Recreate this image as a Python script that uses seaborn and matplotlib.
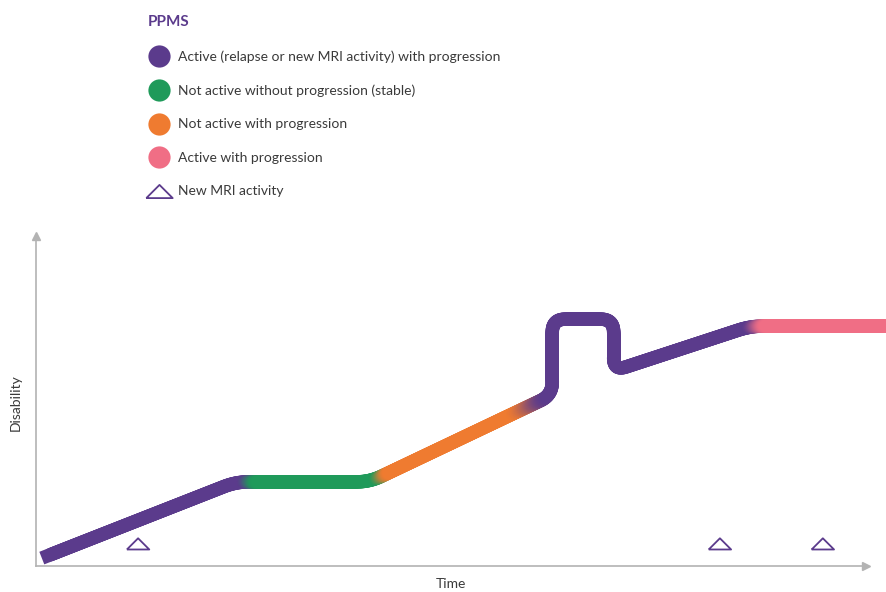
import numpy as np
import matplotlib
matplotlib.use("Agg")
import matplotlib.pyplot as plt
import seaborn as sns
from matplotlib.collections import LineCollection
from matplotlib.lines import Line2D
from matplotlib.colors import to_rgb

# Course of disability over time (corner points of the disease course)
time = [0.7, 24.1, 40.2, 62.2, 62.2, 69.6, 69.6, 86.1, 104.0]
disability = [2.4, 25.5, 25.5, 51.8, 74.8, 74.8, 59.1, 72.7, 72.7]

# Disease states shown in the legend
state_names = [
    "Active (relapse or new MRI activity) with progression",
    "Not active without progression (stable)",
    "Not active with progression",
    "Active with progression",
]
state_colors = ["#5b3b8c", "#1f9a5a", "#ef7b30", "#f06e85"]

# Sequence of states along the course and the times where one hands over to the next
course_states = [0, 1, 2, 0, 3]
state_changes = [25.8, 41.7, 59.5, 86.9]
change_spans = [1.8, 1.8, 4.5, 2.3]

# New MRI activity events
mri_time = [12.3, 82.4, 94.8]
mri_level = [6.7, 6.7, 6.7]

PURPLE = state_colors[0]
AXIS_GREY = "#b3b3b3"
TEXT = "#3a3a3a"

sns.set_theme(style="white")
plt.rcParams["font.family"] = ["Lato", "DejaVu Sans"]

W, H = 887, 592
fig = plt.figure(figsize=(W / 100, H / 100), dpi=100)
ax = fig.add_axes([36 / W, 26 / H, 830 / W, 330 / H])
ax.set_xlim(0, 100)
ax.set_ylim(0, 100)

# axes drawn as two grey arrows
sns.despine(ax=ax)
for side in ("left", "bottom"):
    ax.spines[side].set_color(AXIS_GREY)
    ax.spines[side].set_linewidth(1.2)
ax.set_xticks([])
ax.set_yticks([])
ax.plot(1, 0, ">", color=AXIS_GREY, markersize=6, transform=ax.transAxes, clip_on=False)
ax.plot(0, 1, "^", color=AXIS_GREY, markersize=6, transform=ax.transAxes, clip_on=False)
ax.set_xlabel("Time", fontsize=10, color=TEXT)
ax.set_ylabel("Disability", fontsize=10, color=TEXT)
ax.xaxis.set_label_coords(0.5, -0.035)
ax.yaxis.set_label_coords(-0.017, 0.494)


def rounded_course(pts, radius, n=24):
    """Round the corners of a polyline (display coordinates)."""
    out = [pts[0]]
    for i in range(1, len(pts) - 1):
        a, p, c = pts[i - 1], pts[i], pts[i + 1]
        u = a - p
        v = c - p
        lu, lv = np.linalg.norm(u), np.linalg.norm(v)
        r = min(radius, lu / 2, lv / 2)
        p0 = p + u / lu * r
        p1 = p + v / lv * r
        s = np.linspace(0, 1, n)[:, None]
        out.extend((1 - s) ** 2 * p0 + 2 * (1 - s) * s * p + s ** 2 * p1)
    out.append(pts[-1])
    out = np.array(out)
    seg = np.hypot(*np.diff(out, axis=0).T)
    keep = np.concatenate([[True], seg > 1e-9])
    out = out[keep]
    arc = np.concatenate([[0], np.cumsum(np.hypot(*np.diff(out, axis=0).T))])
    step = np.arange(0, arc[-1], 1.0)
    return np.column_stack([np.interp(step, arc, out[:, 0]), np.interp(step, arc, out[:, 1])])


def state_color(t):
    col = np.array(to_rgb(state_colors[course_states[0]]))
    for k, (c, w) in enumerate(zip(state_changes, change_spans)):
        f = np.clip((t - (c - w / 2)) / w, 0, 1)
        f = f * f * (3 - 2 * f)
        nxt = np.array(to_rgb(state_colors[course_states[k + 1]]))
        col = col * (1 - f) + nxt * f
    return col


disp = ax.transData.transform(np.column_stack([time, disability]))
dense_disp = rounded_course(disp, 13)
dense = ax.transData.inverted().transform(dense_disp)
colors = np.array([state_color(t) for t in dense[:, 0]])
segs = np.stack([dense[:-1], dense[1:]], axis=1)
seg_cols = (colors[:-1] + colors[1:]) / 2

band = 13.5 * 72 / 100  # course band width in points
head = 9
lc_head = LineCollection([dense[: head + 1]], colors=[seg_cols[0]], linewidths=band,
                         capstyle="butt", clip_on=False)
lc_body = LineCollection(segs[head:], colors=seg_cols[head:], linewidths=band,
                         capstyle="round", joinstyle="round", clip_on=False)
ax.add_collection(lc_head)
ax.add_collection(lc_body)

# New MRI activity markers: flat open triangles
tri = [(-1, -0.5), (1, -0.5), (0, 0.5), (-1, -0.5)]
sns.scatterplot(x=mri_time, y=mri_level, ax=ax, marker=tri, s=260,
                facecolor="none", edgecolor=PURPLE, linewidth=1.3, clip_on=False)

# legend
handles = [Line2D([], [], linestyle="none", marker="o", markersize=16,
                  markerfacecolor=c, markeredgecolor="none") for c in state_colors]
handles.append(Line2D([], [], linestyle="none", marker=tri, markersize=19,
                      markerfacecolor="none", markeredgecolor=PURPLE, markeredgewidth=1.3))
labels = state_names + ["New MRI activity"]
leg = fig.legend(handles, labels, loc="upper left", bbox_to_anchor=(138 / W, 1 - 5 / H),
                 frameon=False, fontsize=10, labelspacing=1.55, handlelength=1.6,
                 handletextpad=0.55, title="PPMS", borderpad=0.2)
leg.get_title().set_fontweight("bold")
leg.get_title().set_color(PURPLE)
leg.get_title().set_fontsize(11)
leg._legend_box.align = "left"
for t in leg.get_texts():
    t.set_color(TEXT)

fig.savefig("out.png", dpi=100)
